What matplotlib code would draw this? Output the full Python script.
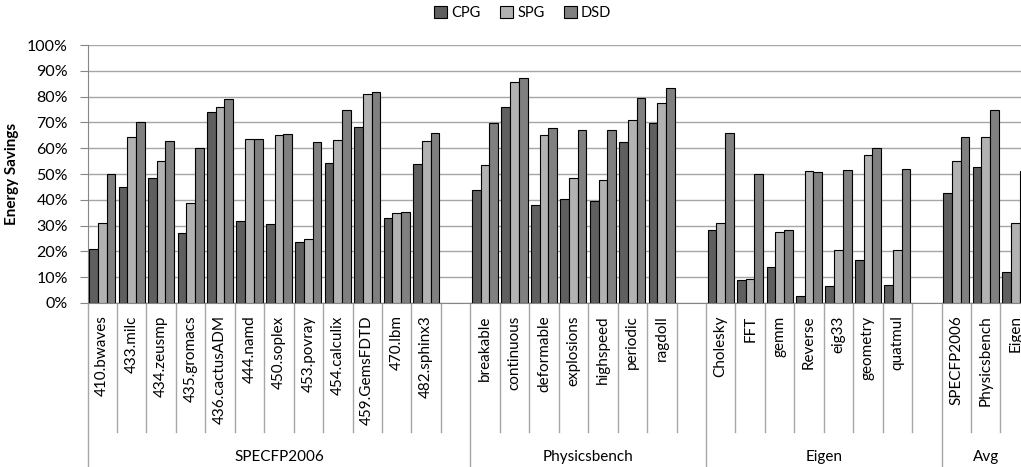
import matplotlib.pyplot as plt
import numpy as np

plt.rcParams['font.family'] = ['Lato', 'DejaVu Sans']

groups = ["SPECFP2006", "Physicsbench", "Eigen", "Avg"]

spec_names = ["410.bwaves", "433.milc", "434.zeusmp", "435.gromacs", "436.cactusADM",
              "444.namd", "450.soplex", "453.povray", "454.calculix", "459.GemsFDTD",
              "470.lbm", "482.sphinx3"]
spec_cpg = [21.0, 44.9, 48.6, 27.1, 74.1, 31.9, 30.5, 23.6, 54.2, 68.4, 32.9, 53.7]
spec_spg = [31.0, 64.5, 55.2, 38.7, 76.0, 63.4, 65.0, 25.0, 63.1, 80.9, 34.7, 62.8]
spec_dsd = [50.1, 70.2, 62.8, 59.9, 79.2, 63.5, 65.4, 62.3, 74.7, 81.7, 35.2, 65.7]

phys_names = ["breakable", "continuous", "deformable", "explosions", "highspeed",
              "periodic", "ragdoll"]
phys_cpg = [43.7, 75.9, 37.9, 40.3, 39.7, 62.3, 69.7]
phys_spg = [53.5, 85.8, 65.0, 48.6, 47.7, 71.0, 77.4]
phys_dsd = [69.7, 87.4, 68.0, 67.1, 67.1, 79.4, 83.4]

eigen_names = ["Cholesky", "FFT", "gemm", "Reverse", "eig33", "geometry", "quatmul"]
eigen_cpg = [28.4, 8.8, 14.1, 2.6, 6.5, 16.5, 6.8]
eigen_spg = [31.0, 9.4, 27.5, 51.2, 20.5, 57.2, 20.6]
eigen_dsd = [65.7, 49.9, 28.4, 50.7, 51.7, 60.0, 52.0]

avg_names = ["SPECFP2006", "Physicsbench", "Eigen"]
avg_cpg = [42.6, 52.9, 11.9]
avg_spg = [55.0, 64.3, 31.1]
avg_dsd = [64.3, 74.7, 51.2]

# each group gets a trailing empty slot except the last one
group_names = [spec_names, phys_names, eigen_names, avg_names]
group_cpg = [spec_cpg, phys_cpg, eigen_cpg, avg_cpg]
group_spg = [spec_spg, phys_spg, eigen_spg, avg_spg]
group_dsd = [spec_dsd, phys_dsd, eigen_dsd, avg_dsd]

labels, cpg, spg, dsd, xs = [], [], [], [], []
group_starts, group_ends = [], []
slot = 0
for gi, names in enumerate(group_names):
    group_starts.append(slot)
    for i, n in enumerate(names):
        labels.append(n)
        cpg.append(group_cpg[gi][i])
        spg.append(group_spg[gi][i])
        dsd.append(group_dsd[gi][i])
        xs.append(slot + 0.5)
        slot += 1
    if gi < len(group_names) - 1:
        slot += 1
    group_ends.append(slot)
n_slots = slot

xs = np.array(xs)
w = 0.295

fig = plt.figure(figsize=(10.21, 4.67), dpi=100)
ax = fig.add_axes([87.5 / 1021, 1 - 303 / 467, (32 * 29.45) / 1021, 258 / 467])

ax.bar(xs - w, cpg, w, color="#5f5f5f", edgecolor="black", linewidth=0.8, label="CPG", zorder=3)
ax.bar(xs, spg, w, color="#b2b2b2", edgecolor="black", linewidth=0.8, label="SPG", zorder=3)
ax.bar(xs + w, dsd, w, color="#808080", edgecolor="black", linewidth=0.8, label="DSD", zorder=3)

ax.set_xlim(0, n_slots)
ax.set_ylim(0, 100)
ax.set_yticks(np.arange(0, 101, 10))
ax.set_yticklabels([f"{v}%" for v in range(0, 101, 10)], fontsize=11.5)
ax.yaxis.grid(True, color="#a6a6a6", linewidth=1)
ax.tick_params(axis="y", length=6, color="#868686", pad=8)
for s in ["top", "right"]:
    ax.spines[s].set_visible(False)
ax.spines["left"].set_color("#868686")
ax.spines["bottom"].set_color("#868686")

ax.set_xticks(xs)
ax.set_xticklabels(labels, rotation=90, fontsize=11)
ax.tick_params(axis="x", length=0, pad=9)

ax.set_ylabel("Energy Savings", fontsize=11, fontweight="bold", labelpad=6)

trans = ax.get_xaxis_transform()
for b in range(n_slots + 1):
    if b in group_starts:
        continue
    ax.plot([b, b], [0, -0.5], transform=trans, color="#a6a6a6", linewidth=1, clip_on=False)
for b in group_starts:
    ax.plot([b, b], [0, -0.7], transform=trans, color="#a6a6a6", linewidth=1, clip_on=False)
for g, s, e in zip(groups, group_starts, group_ends):
    ax.text((s + e) / 2, -0.597, g, transform=trans, ha="center", va="center", fontsize=11)

fig.legend(loc="center", bbox_to_anchor=(0.512, 0.972), ncol=3, frameon=False, fontsize=10.5,
           handlelength=0.9, handleheight=0.9, handletextpad=0.3, columnspacing=1.3)

fig.savefig("out.png", dpi=100)
